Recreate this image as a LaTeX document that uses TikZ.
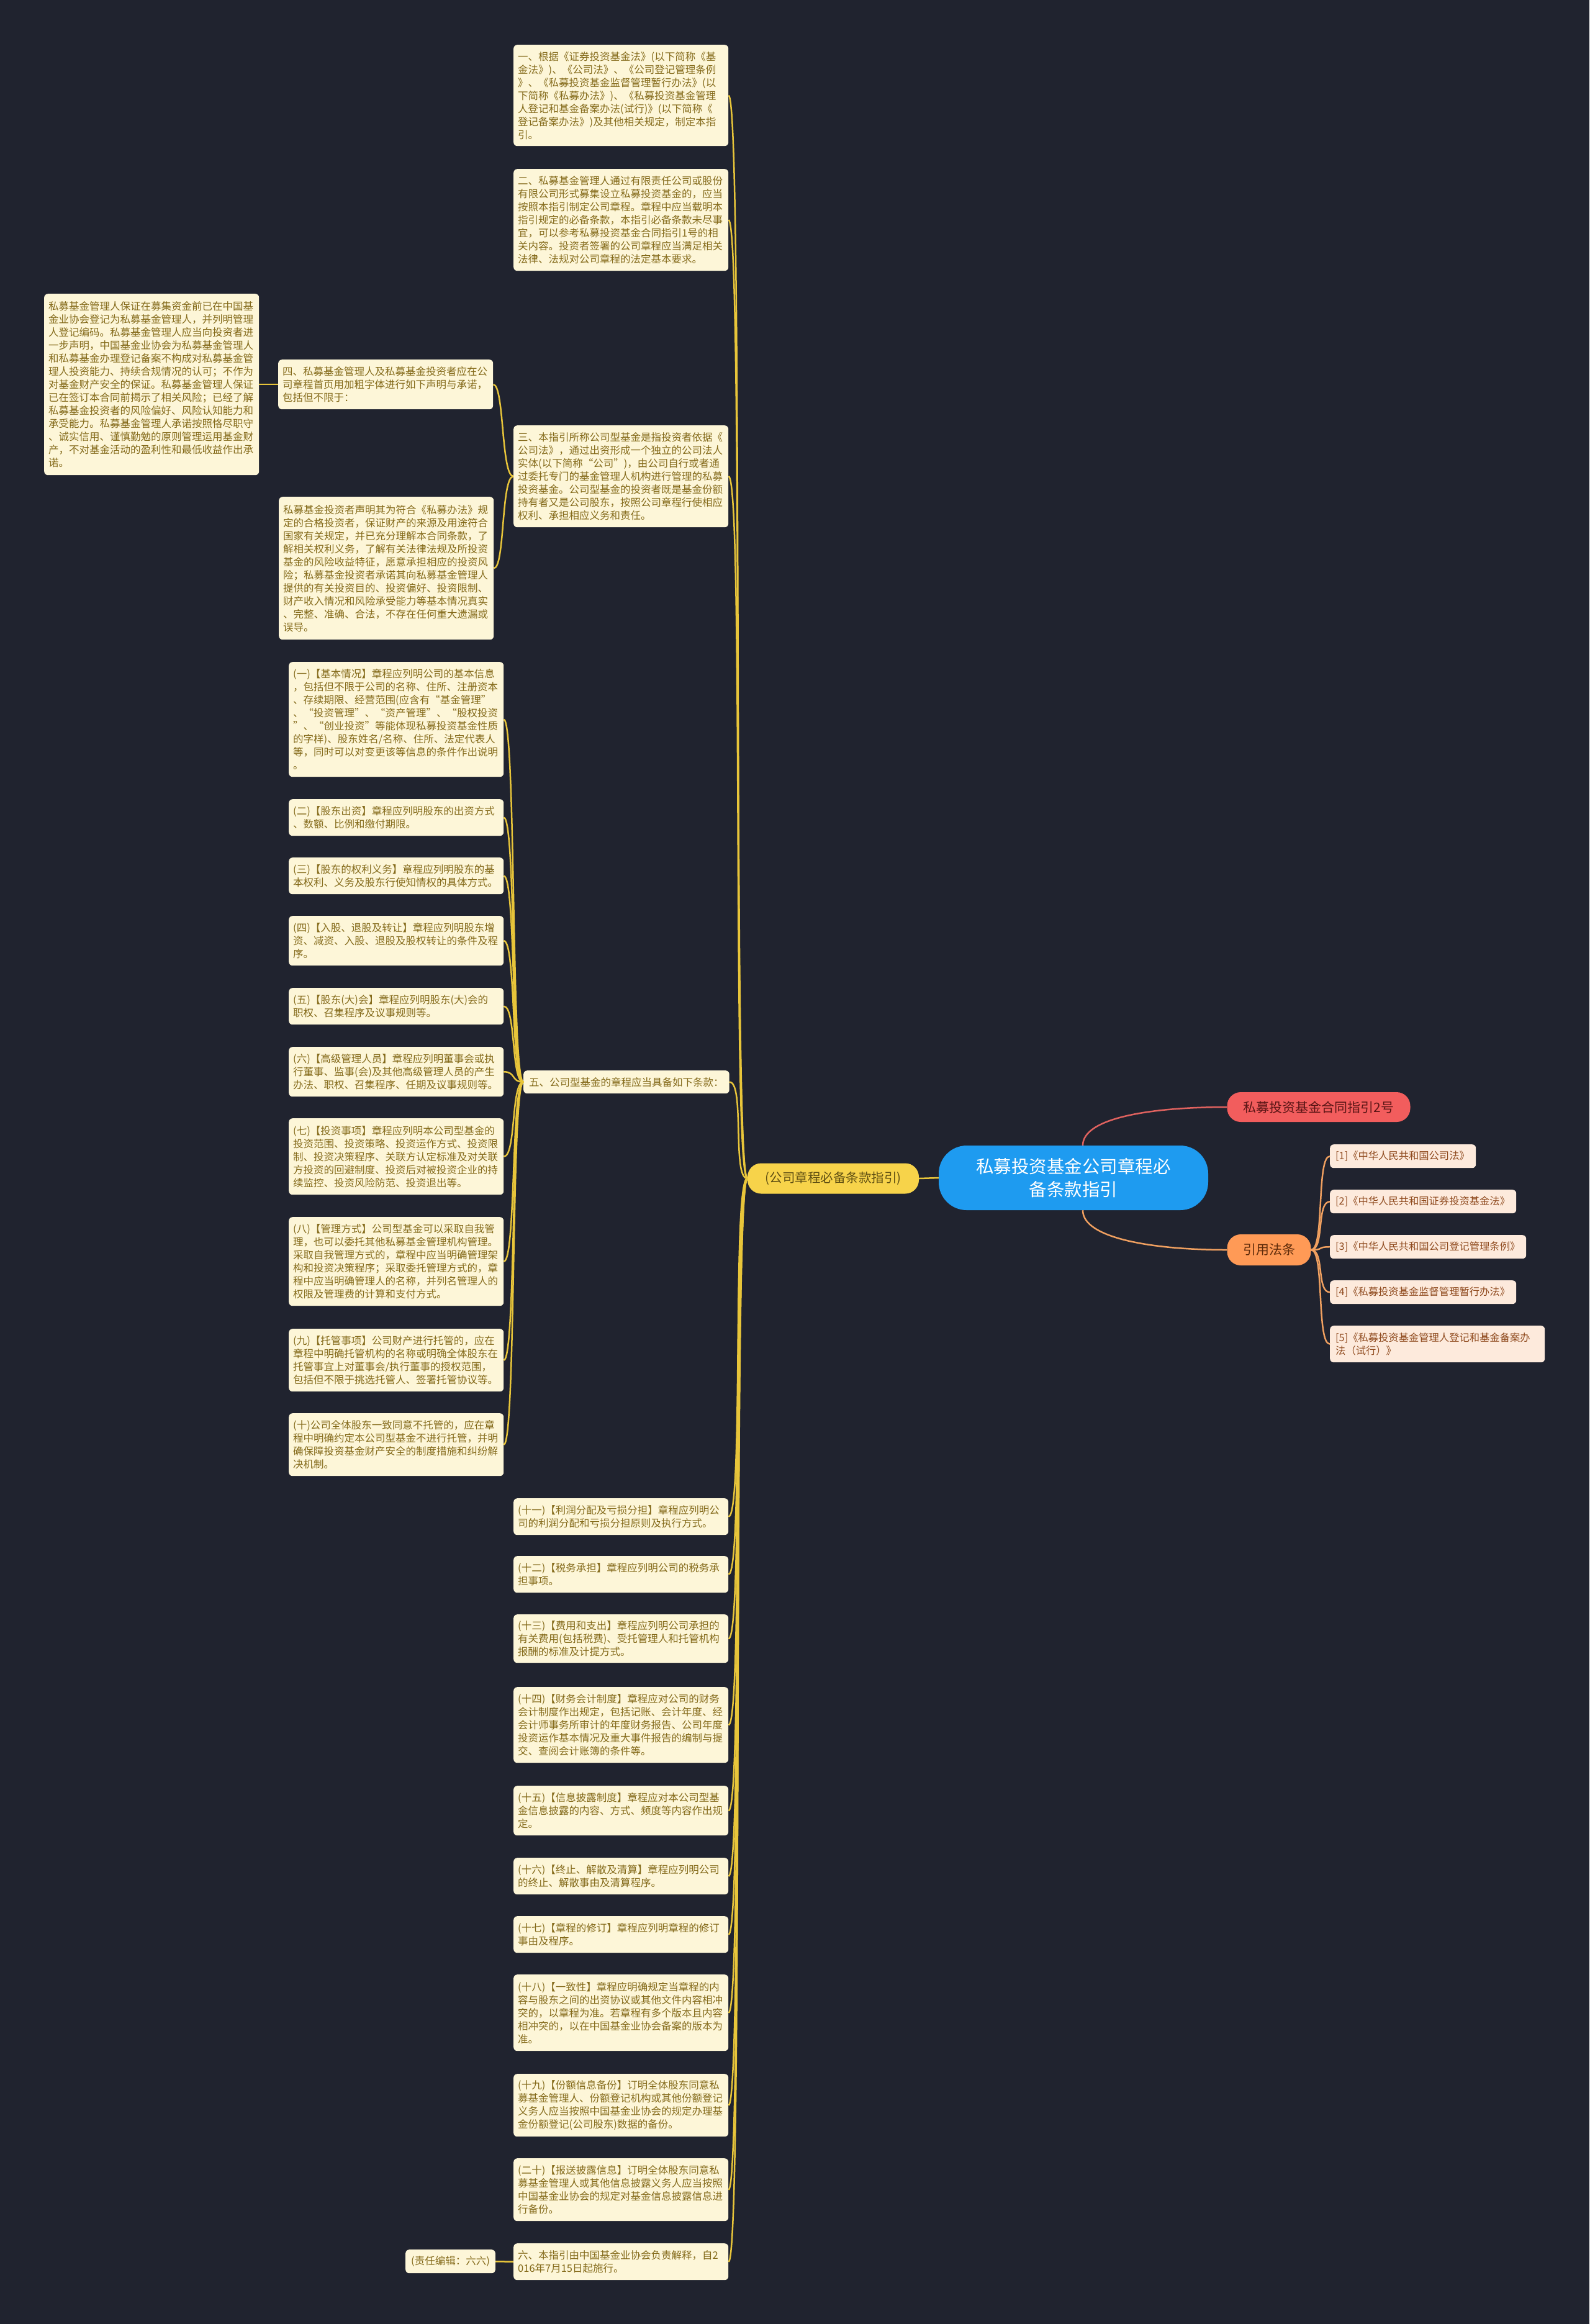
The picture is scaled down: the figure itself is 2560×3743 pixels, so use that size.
\documentclass[tikz,border=0pt]{standalone}
\usepackage{fontspec}
\setmainfont{Noto Sans CJK SC}
\definecolor{bg}{HTML}{20232F}
\definecolor{cream}{HTML}{FDF6D8}
\definecolor{txtc}{HTML}{846A1A}
\definecolor{linky}{HTML}{E8C53A}
\definecolor{yelfill}{HTML}{F7D34A}
\definecolor{yeltxt}{HTML}{5E4E12}
\definecolor{rootfill}{HTML}{1E9BF0}
\definecolor{redfill}{HTML}{F25D5D}
\definecolor{redline}{HTML}{E0625F}
\definecolor{redtxt}{HTML}{5A1515}
\definecolor{orfill}{HTML}{FF9A56}
\definecolor{orline}{HTML}{F0A060}
\definecolor{ortxt}{HTML}{5E2B0A}
\definecolor{reffill}{HTML}{FDEADC}
\definecolor{reftxt}{HTML}{8F4A1E}
\newcommand\tb[5]{\node[txt,minimum height=#4pt] (#1) at (#2,#3) {#5};}
\newcommand\rb[5]{\node[refbox,text width=#4pt,minimum height=#5pt] (#1) at (2142,#2) {#3};}
\begin{document}
\begin{tikzpicture}[x=1pt,y=-1pt,
  txt/.style={fill=cream,text=txtc,rounded corners=6pt,text width=332pt,inner xsep=7pt,inner ysep=0pt,align=left,anchor=north west,font=\fontsize{16.5}{21}\selectfont},
  txtnat/.style={fill=cream,text=txtc,rounded corners=6pt,inner xsep=9pt,inner ysep=0pt,anchor=north west,font=\fontsize{16.5}{21}\selectfont},
  refbox/.style={fill=reffill,text=reftxt,rounded corners=6pt,inner xsep=9pt,inner ysep=0pt,align=left,anchor=north west,font=\fontsize{16.3}{21}\selectfont},
  ylink/.style={draw=linky,line width=2.5pt},
  rlink/.style={draw=redline,line width=2.5pt},
  olink/.style={draw=orline,line width=2.5pt}]
\fill[bg] (0,0) rectangle (2560,3743);
\useasboundingbox (0,0) rectangle (2560,3743);

% central nodes
\node[fill=rootfill,text=white,rounded corners=45pt,minimum width=434pt,minimum height=104pt,align=center,inner sep=0pt,font=\fontsize{28.5}{37}\selectfont] (root) at (1729,1897) {私募投资基金公司章程必\\备条款指引};
\node[fill=yelfill,text=yeltxt,rounded corners=22pt,minimum width=276pt,minimum height=49pt,inner sep=0pt,font=\fontsize{20.5}{24}\selectfont] (yel) at (1342,1898) {(公司章程必备条款指引)};
\node[fill=redfill,text=redtxt,rounded corners=22pt,minimum width=295pt,minimum height=48pt,inner sep=0pt,font=\fontsize{21}{24}\selectfont] (red) at (2124,1783) {私募投资基金合同指引2号};
\node[fill=orfill,text=ortxt,rounded corners=22pt,minimum width=135pt,minimum height=50pt,inner sep=0pt,font=\fontsize{21}{24}\selectfont] (ora) at (2044,2013) {引用法条};

% references
\rb{r1}{1843}{[1]《中华人民共和国公司法》}{217}{38}
\rb{r2}{1916}{[2]《中华人民共和国证券投资基金法》}{282}{38}
\rb{r3}{1989}{[3]《中华人民共和国公司登记管理条例》}{298}{38}
\rb{r4}{2062}{[4]《私募投资基金监督管理暂行办法》}{282}{38}
\rb{r5}{2135}{[5]《私募投资基金管理人登记和基金备案办\\法（试行）》}{328}{59}

% upper branch
\tb{n1}{827}{72}{163}{一、根据《证券投资基金法》(以下简称《基\\金法》)、《公司法》、《公司登记管理条例\\》、《私募投资基金监督管理暂行办法》(以\\下简称《私募办法》)、《私募投资基金管理\\人登记和基金备案办法(试行)》(以下简称《\\登记备案办法》)及其他相关规定，制定本指\\引。}
\tb{n2}{827}{272}{164}{二、私募基金管理人通过有限责任公司或股份\\有限公司形式募集设立私募投资基金的，应当\\按照本指引制定公司章程。章程中应当载明本\\指引规定的必备条款，本指引必备条款未尽事\\宜，可以参考私募投资基金合同指引1号的相\\关内容。投资者签署的公司章程应当满足相关\\法律、法规对公司章程的法定基本要求。}
\tb{n3}{827}{685}{164}{三、本指引所称公司型基金是指投资者依据《\\公司法》，通过出资形成一个独立的公司法人\\实体(以下简称“公司”)，由公司自行或者通\\过委托专门的基金管理人机构进行管理的私募\\投资基金。公司型基金的投资者既是基金份额\\持有者又是公司股东，按照公司章程行使相应\\权利、承担相应义务和责任。}
\tb{n4}{448}{579}{80}{四、私募基金管理人及私募基金投资者应在公\\司章程首页用加粗字体进行如下声明与承诺，\\包括但不限于：}
\tb{la}{71}{473}{292}{私募基金管理人保证在募集资金前已在中国基\\金业协会登记为私募基金管理人，并列明管理\\人登记编码。私募基金管理人应当向投资者进\\一步声明，中国基金业协会为私募基金管理人\\和私募基金办理登记备案不构成对私募基金管\\理人投资能力、持续合规情况的认可；不作为\\对基金财产安全的保证。私募基金管理人保证\\已在签订本合同前揭示了相关风险；已经了解\\私募基金投资者的风险偏好、风险认知能力和\\承受能力。私募基金管理人承诺按照恪尽职守\\、诚实信用、谨慎勤勉的原则管理运用基金财\\产，不对基金活动的盈利性和最低收益作出承\\诺。}
\tb{lb}{449}{800}{230}{私募基金投资者声明其为符合《私募办法》规\\定的合格投资者，保证财产的来源及用途符合\\国家有关规定，并已充分理解本合同条款，了\\解相关权利义务，了解有关法律法规及所投资\\基金的风险收益特征，愿意承担相应的投资风\\险；私募基金投资者承诺其向私募基金管理人\\提供的有关投资目的、投资偏好、投资限制、\\财产收入情况和风险承受能力等基本情况真实\\、完整、准确、合法，不存在任何重大遗漏或\\误导。}

% item five and its children
\node[txtnat,minimum width=330pt,minimum height=37pt] (n5) at (843,1724) {五、公司型基金的章程应当具备如下条款：};
\tb{a1}{465}{1066}{185}{(一)【基本情况】章程应列明公司的基本信息\\，包括但不限于公司的名称、住所、注册资本\\、存续期限、经营范围(应含有“基金管理”\\、“投资管理”、“资产管理”、“股权投资\\”、“创业投资”等能体现私募投资基金性质\\的字样)、股东姓名/名称、住所、法定代表人\\等，同时可以对变更该等信息的条件作出说明\\。}
\tb{a2}{465}{1287}{59}{(二)【股东出资】章程应列明股东的出资方式\\、数额、比例和缴付期限。}
\tb{a3}{465}{1381}{59}{(三)【股东的权利义务】章程应列明股东的基\\本权利、义务及股东行使知情权的具体方式。}
\tb{a4}{465}{1475}{80}{(四)【入股、退股及转让】章程应列明股东增\\资、减资、入股、退股及股权转让的条件及程\\序。}
\tb{a5}{465}{1591}{59}{(五)【股东(大)会】章程应列明股东(大)会的\\职权、召集程序及议事规则等。}
\tb{a6}{465}{1686}{80}{(六)【高级管理人员】章程应列明董事会或执\\行董事、监事(会)及其他高级管理人员的产生\\办法、职权、召集程序、任期及议事规则等。}
\tb{a7}{465}{1801}{123}{(七)【投资事项】章程应列明本公司型基金的\\投资范围、投资策略、投资运作方式、投资限\\制、投资决策程序、关联方认定标准及对关联\\方投资的回避制度、投资后对被投资企业的持\\续监控、投资风险防范、投资退出等。}
\tb{a8}{465}{1960}{143}{(八)【管理方式】公司型基金可以采取自我管\\理，也可以委托其他私募基金管理机构管理。\\采取自我管理方式的，章程中应当明确管理架\\构和投资决策程序；采取委托管理方式的，章\\程中应当明确管理人的名称，并列名管理人的\\权限及管理费的计算和支付方式。}
\tb{a9}{465}{2140}{101}{(九)【托管事项】公司财产进行托管的，应在\\章程中明确托管机构的名称或明确全体股东在\\托管事宜上对董事会/执行董事的授权范围，\\包括但不限于挑选托管人、签署托管协议等。}
\tb{a10}{465}{2276}{101}{(十)公司全体股东一致同意不托管的，应在章\\程中明确约定本公司型基金不进行托管，并明\\确保障投资基金财产安全的制度措施和纠纷解\\决机制。}

% lower branch
\tb{b11}{827}{2413}{59}{(十一)【利润分配及亏损分担】章程应列明公\\司的利润分配和亏损分担原则及执行方式。}
\tb{b12}{827}{2506}{59}{(十二)【税务承担】章程应列明公司的税务承\\担事项。}
\tb{b13}{827}{2600}{78}{(十三)【费用和支出】章程应列明公司承担的\\有关费用(包括税费)、受托管理人和托管机构\\报酬的标准及计提方式。}
\tb{b14}{827}{2717}{122}{(十四)【财务会计制度】章程应对公司的财务\\会计制度作出规定，包括记账、会计年度、经\\会计师事务所审计的年度财务报告、公司年度\\投资运作基本情况及重大事件报告的编制与提\\交、查阅会计账簿的条件等。}
\tb{b15}{827}{2876}{80}{(十五)【信息披露制度】章程应对本公司型基\\金信息披露的内容、方式、频度等内容作出规\\定。}
\tb{b16}{827}{2992}{59}{(十六)【终止、解散及清算】章程应列明公司\\的终止、解散事由及清算程序。}
\tb{b17}{827}{3086}{59}{(十七)【章程的修订】章程应列明章程的修订\\事由及程序。}
\tb{b18}{827}{3180}{123}{(十八)【一致性】章程应明确规定当章程的内\\容与股东之间的出资协议或其他文件内容相冲\\突的，以章程为准。若章程有多个版本且内容\\相冲突的，以在中国基金业协会备案的版本为\\准。}
\tb{b19}{827}{3340}{101}{(十九)【份额信息备份】订明全体股东同意私\\募基金管理人、份额登记机构或其他份额登记\\义务人应当按照中国基金业协会的规定办理基\\金份额登记(公司股东)数据的备份。}
\tb{b20}{827}{3476}{101}{(二十)【报送披露信息】订明全体股东同意私\\募基金管理人或其他信息披露义务人应当按照\\中国基金业协会的规定对基金信息披露信息进\\行备份。}
\tb{n6}{827}{3613}{59}{六、本指引由中国基金业协会负责解释，自2\\016年7月15日起施行。}
\node[txtnat,minimum width=143pt,minimum height=38pt] (ed) at (653,3623) {(责任编辑：六六)};

% connectors
\draw[ylink] (root.west) -- (yel.east);
\draw[rlink] ([xshift=15pt]root.north) .. controls +(0,-45) and +(-120,0) .. (red.west);
\draw[olink] ([xshift=15pt]root.south) .. controls +(0,45) and +(-120,0) .. (ora.west);
\foreach \r in {r1,r2,r3,r4,r5}
  \draw[olink] (ora.east) .. controls +(22,0) and +(-22,0) .. (\r.west);
\foreach \c in {n1,n2,n3,n5,b11,b12,b13,b14,b15,b16,b17,b18,b19,b20,n6}
  \draw[ylink] (yel.west) .. controls +(-25,0) and +(25,0) .. (\c.east);
\foreach \c in {a1,a2,a3,a4,a5,a6,a7,a8,a9,a10}
  \draw[ylink] (n5.west) .. controls +(-20,0) and +(20,0) .. (\c.east);
\foreach \c in {n4,lb}
  \draw[ylink] (n3.west) .. controls +(-20,0) and +(18,0) .. (\c.east);
\draw[ylink] (n4.west) -- (la.east);
\draw[ylink] (n6.west) -- (ed.east);
\end{tikzpicture}
\end{document}
